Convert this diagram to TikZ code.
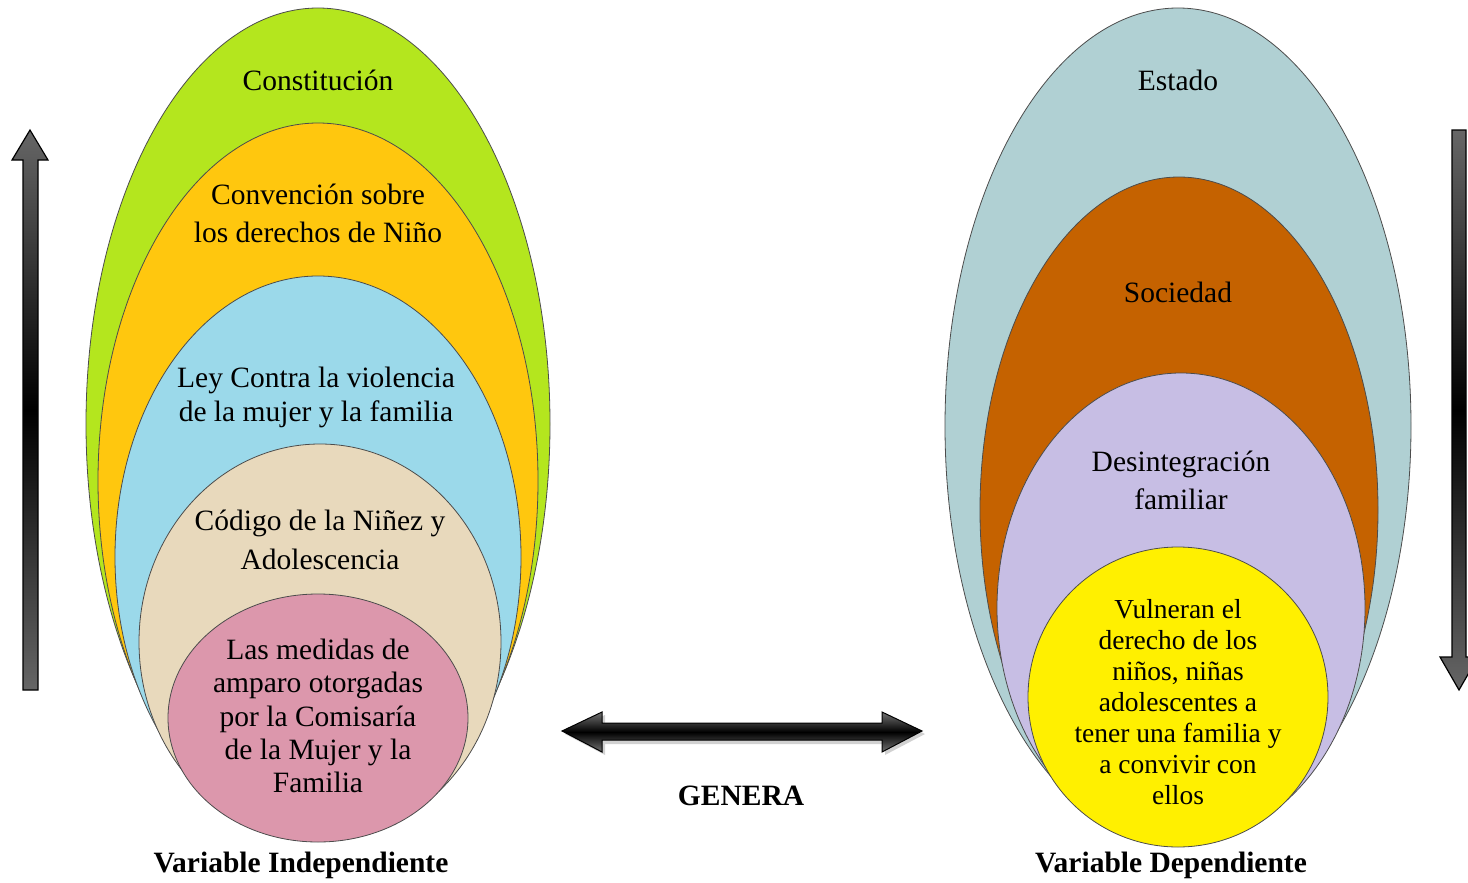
\documentclass[tikz,border=0pt]{standalone}
\usepackage{fontspec}
\setmainfont{Liberation Serif}
\definecolor{cGreen}{HTML}{B4E61E}
\definecolor{cOrange}{HTML}{FFC70E}
\definecolor{cBlue}{HTML}{9BD9EA}
\definecolor{cBeige}{HTML}{E8D9BC}
\definecolor{cPink}{HTML}{DC97AC}
\definecolor{cTeal}{HTML}{B0D0D3}
\definecolor{cBrown}{HTML}{C56200}
\definecolor{cLav}{HTML}{C7BEE4}
\definecolor{cYellow}{HTML}{FFF000}
\definecolor{cArrow}{HTML}{666666}
\begin{document}
\begin{tikzpicture}[x=1pt,y=-1pt,
  oval/.style={draw=black!70, line width=0.8pt},
  lbl/.style={align=center, inner sep=0pt, font=\fontsize{29.5}{34}\selectfont},
  vlbl/.style={align=center, inner sep=0pt, font=\fontsize{29.5}{34}\selectfont\bfseries},
  vertarrow/.style={draw=black, line width=1.2pt, top color=cArrow, bottom color=cArrow, middle color=black},
  horarrow/.style={draw=black, line width=1pt, top color=black!55, bottom color=black!55, middle color=black},
  shadowarrow/.style={fill=black!30, draw=none, opacity=0.6}
]
\useasboundingbox (0,0) rectangle (1468,883);

% left stack
\draw[oval, fill=cGreen]  (318,424) ellipse (232 and 416);
\draw[oval, fill=cOrange] (318,481) ellipse (220 and 358);
\draw[oval, fill=cBlue]   (318,557) ellipse (203 and 281);
\draw[oval, fill=cBeige]  (320,642) ellipse (181 and 198);
\draw[oval, fill=cPink]   (318,718) ellipse (150 and 124);

\node[lbl] (constitucion) at (318,80) {Constitución};
\node[lbl, font=\fontsize{29.5}{38}\selectfont] (convencion) at (318,213) {Convención sobre\\los derechos de Niño};
\node[lbl] (ley) at (316,397) {Ley Contra la violencia\\de la mujer y la familia};
\node[lbl, font=\fontsize{29.5}{39}\selectfont] (codigo) at (320,540) {Código de la Niñez y\\Adolescencia};
\node[lbl, font=\fontsize{29.5}{33.3}\selectfont] (medidas) at (318,716) {Las medidas de\\amparo otorgadas\\por la Comisaría\\de la Mujer y la\\Familia};
\node[vlbl] (vind) at (301,865) {Variable Independiente};

% right stack
\draw[oval, fill=cTeal]   (1178,426) ellipse (233 and 418);
\draw[oval, fill=cBrown]  (1179,510) ellipse (199 and 333);
\draw[oval, fill=cLav]    (1181,608) ellipse (184 and 235);
\draw[oval, fill=cYellow] (1178,697) ellipse (150 and 150);

\node[lbl] (estado) at (1178,80) {Estado};
\node[lbl] (sociedad) at (1178,292) {Sociedad};
\node[lbl, font=\fontsize{29.5}{38}\selectfont] (desint) at (1181,480) {Desintegración\\familiar};
\node[lbl, font=\fontsize{27.5}{31}\selectfont] (vulneran) at (1178,702) {Vulneran el\\derecho de los\\niños, niñas\\adolescentes a\\tener una familia y\\a convivir con\\ellos};
\node[vlbl] (vdep) at (1171,865) {Variable Dependiente};

% vertical arrows
\path[vertarrow] (30,130) -- (48,160) -- (38,160) -- (38,690) -- (23,690) -- (23,160) -- (12,160) -- cycle;
\path[vertarrow] (1452,130) -- (1466,130) -- (1466,657) -- (1478,657) -- (1459,690) -- (1440,657) -- (1452,657) -- cycle;

% double arrow
\path[shadowarrow] (565,734) -- (605,715) -- (605,727) -- (885,727) -- (885,715) -- (925,734) -- (885,755) -- (885,744) -- (605,744) -- (605,755) -- cycle;
\path[horarrow] (562,731) -- (602,712) -- (602,723) -- (882,723) -- (882,712) -- (922,731) -- (882,752) -- (882,740) -- (602,740) -- (602,752) -- cycle;
\node[vlbl] (genera) at (741,796) {GENERA};
\end{tikzpicture}
\end{document}
